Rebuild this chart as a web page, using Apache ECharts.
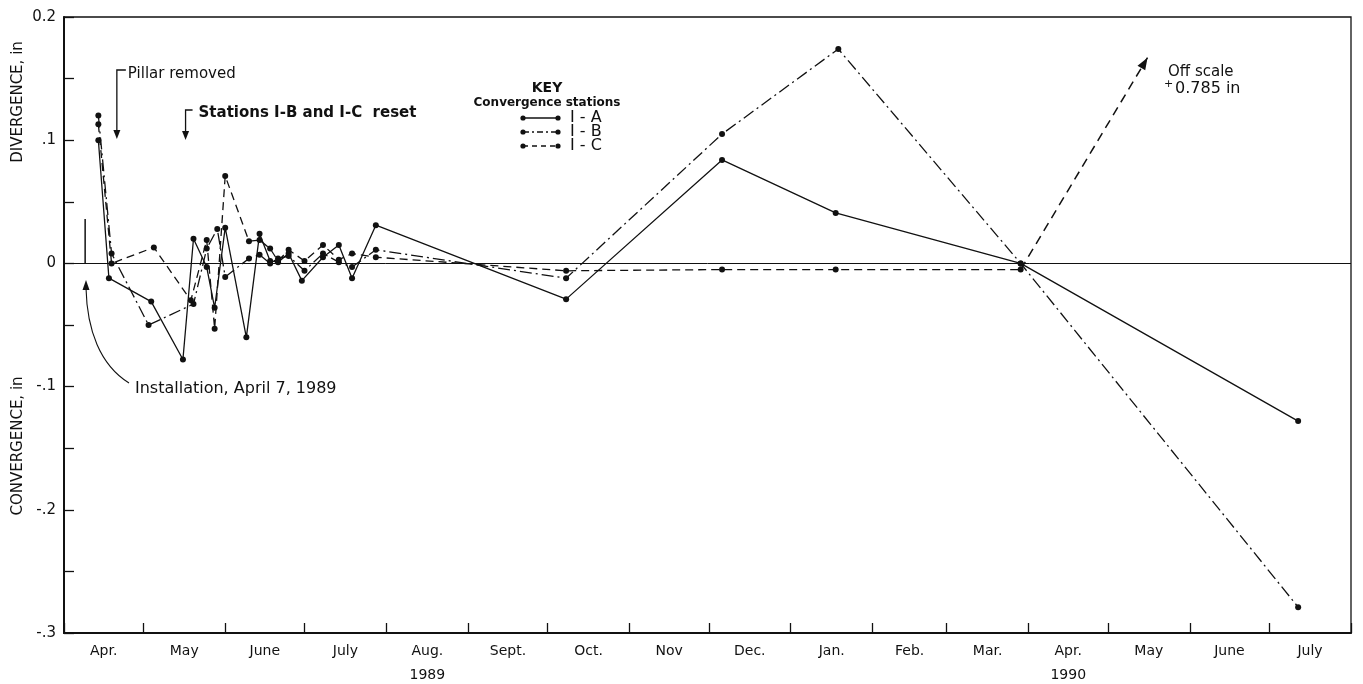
<!DOCTYPE html>
<html>
<head>
<meta charset="utf-8">
<title>Convergence stations</title>
<script src="https://cdn.jsdelivr.net/npm/echarts@6/dist/echarts.min.js"></script>
<style>
  html, body { margin: 0; padding: 0; background: #fff; }
  #chart { width: 1363px; height: 684px; }
</style>
</head>
<body>
<div id="chart"></div>
<script>
// station I-A (solid)
var datesA = ['1989-04-14', '1989-04-18', '1989-05-04', '1989-05-16', '1989-05-20', '1989-05-25', '1989-05-28',
  '1989-06-01', '1989-06-09', '1989-06-14', '1989-06-18', '1989-06-21', '1989-06-25', '1989-06-30', '1989-07-08',
  '1989-07-14', '1989-07-19', '1989-07-28', '1989-10-08', '1989-12-06', '1990-01-18', '1990-03-29', '1990-07-12'];
var valuesA = [0.100, -0.012, -0.031, -0.078, 0.020, -0.003, -0.036,
  0.029, -0.060, 0.024, 0.002, 0.001, 0.008, -0.014, 0.005,
  0.015, -0.012, 0.031, -0.029, 0.084, 0.041, 0.000, -0.128];

// station I-B (dash-dot)
var datesB = ['1989-04-14', '1989-04-19', '1989-05-03', '1989-05-20', '1989-05-25', '1989-05-29', '1989-06-01',
  '1989-06-10', '1989-06-14', '1989-06-18', '1989-06-21', '1989-06-25', '1989-07-01', '1989-07-08', '1989-07-14',
  '1989-07-19', '1989-07-28', '1989-10-08', '1989-12-06', '1990-01-19', '1990-03-29', '1990-07-12'];
var valuesB = [0.120, 0.008, -0.050, -0.033, 0.012, 0.028, -0.011,
  0.004, 0.007, 0.000, 0.004, 0.006, -0.006, 0.008, 0.001,
  -0.003, 0.011, -0.012, 0.105, 0.174, 0.000, -0.279];

// station I-C (dashed)
var datesC = ['1989-04-14', '1989-04-19', '1989-05-05', '1989-05-19', '1989-05-25', '1989-05-28', '1989-06-01',
  '1989-06-10', '1989-06-14', '1989-06-18', '1989-06-21', '1989-06-25', '1989-07-01', '1989-07-08', '1989-07-14',
  '1989-07-19', '1989-07-28', '1989-10-08', '1989-12-06', '1990-01-18', '1990-03-29'];
var valuesC = [0.113, 0.000, 0.013, -0.030, 0.019, -0.053, 0.071,
  0.018, 0.019, 0.012, 0.002, 0.011, 0.002, 0.015, 0.003,
  0.008, 0.005, -0.006, -0.005, -0.005, -0.005];

// I-C goes off scale (+0.785 in), drawn as an arrow
var offScaleDates = ['1990-03-29', '1990-05-16'];
var offScaleValues = [-0.005, 0.167];

// x axis: month boundaries and names
var monthTicks = ['1989-04-01', '1989-05-01', '1989-06-01', '1989-07-01', '1989-08-01', '1989-09-01',
  '1989-10-01', '1989-11-01', '1989-12-01', '1990-01-01', '1990-02-01', '1990-03-01', '1990-04-01',
  '1990-05-01', '1990-06-01', '1990-07-01', '1990-08-01'];
var monthNames = ['Apr.', 'May', 'June', 'July', 'Aug.', 'Sept.', 'Oct.', 'Nov', 'Dec.', 'Jan.', 'Feb.',
  'Mar.', 'Apr.', 'May', 'June', 'July'];
var yearNames = ['', '', '', '', '1989', '', '', '', '', '', '', '', '1990', '', '', ''];

// y axis labels from -0.3 to 0.2
var yTickLabels = ['-.3', '-.2', '-.1', '0', '.1', '0.2'];

// annotations
var pillarDate = '1989-04-21';
var resetDate = '1989-05-17';
var installDate = '1989-04-09';

var FONT = 'DejaVu Sans';

function ts(s) {
  var p = s.split('-');
  return new Date(+p[0], +p[1] - 1, +p[2]).getTime();
}
function pairs(dates, values) {
  return dates.map(function (d, i) { return [ts(d), values[i]]; });
}

var tickValues = monthTicks.map(ts);
var labelValues = [];
var labelText = {};
for (var i = 0; i < monthNames.length; i++) {
  var mid = Math.round((tickValues[i] + tickValues[i + 1]) / 2);
  labelValues.push(mid);
  labelText[mid] = monthNames[i] + (yearNames[i] ? '\n' + yearNames[i] : '');
}

var chart = echarts.init(document.getElementById('chart'));

var option = {
  animation: false,
  backgroundColor: '#fff',
  grid: {
    left: 64, right: 12, top: 17, bottom: 51,
    show: true, borderColor: '#111', borderWidth: 1.3,
    outerBoundsMode: 'none'
  },
  xAxis: {
    type: 'value',
    min: tickValues[0],
    max: tickValues[tickValues.length - 1],
    splitLine: { show: false },
    axisLine: { onZero: false, lineStyle: { color: '#111', width: 2 } },
    axisTick: { inside: true, length: 10, customValues: tickValues, lineStyle: { color: '#111', width: 1.3 } },
    axisLabel: {
      customValues: labelValues,
      color: '#111', fontFamily: FONT, fontSize: 14, margin: 6, lineHeight: 24,
      formatter: function (v) { return labelText[v] || ''; }
    }
  },
  yAxis: {
    type: 'value',
    min: -0.3, max: 0.2, interval: 0.05,
    splitLine: { show: false },
    axisLine: { show: true, lineStyle: { color: '#111', width: 2 } },
    axisTick: { inside: true, length: 10, lineStyle: { color: '#111', width: 1.3 } },
    axisLabel: {
      color: '#111', fontFamily: FONT, fontSize: 15, margin: 8,
      formatter: function (v) {
        var k = Math.round(v * 100);
        if (k % 10 !== 0) return '';
        return yTickLabels[Math.round((k + 30) / 10)];
      }
    }
  },
  series: [
    {
      name: 'I - A', type: 'line',
      data: pairs(datesA, valuesA),
      symbol: 'circle', symbolSize: 6,
      itemStyle: { color: '#111' },
      lineStyle: { color: '#111', width: 1.3 },
      markLine: {
        silent: true, symbol: 'none', label: { show: false },
        lineStyle: { color: '#111', width: 1, type: 'solid' },
        data: [{ yAxis: 0 }]
      }
    },
    {
      name: 'I - B', type: 'line',
      data: pairs(datesB, valuesB),
      symbol: 'circle', symbolSize: 6,
      itemStyle: { color: '#111' },
      lineStyle: { color: '#111', width: 1.3, type: [12, 4, 2, 4] }
    },
    {
      name: 'I - C', type: 'line',
      data: pairs(datesC, valuesC),
      symbol: 'circle', symbolSize: 6,
      itemStyle: { color: '#111' },
      lineStyle: { color: '#111', width: 1.3, type: [8, 5] },
      markLine: {
        silent: true, symbol: 'none',
        label: { show: false },
        lineStyle: { color: '#111', width: 1.5, type: [9, 6] },
        data: [[
          { coord: [ts(offScaleDates[0]), offScaleValues[0]] },
          { coord: [ts(offScaleDates[1]), offScaleValues[1]] }
        ]]
      }
    }
  ]
};

chart.setOption(option);

// annotation graphics placed through the grid's own scale
function px(date, v) {
  return chart.convertToPixel({ gridIndex: 0 }, [ts(date), v]);
}
function arrowDown(x, y) {
  return { type: 'polygon', shape: { points: [[x - 3.5, y - 9], [x + 3.5, y - 9], [x, y]] }, style: { fill: '#111' } };
}
function arrowHead(from, tip) {
  var dx = tip[0] - from[0], dy = tip[1] - from[1];
  var len = Math.sqrt(dx * dx + dy * dy);
  var ux = dx / len, uy = dy / len;
  var bx = tip[0] - ux * 12, by = tip[1] - uy * 12;
  return { type: 'polygon', shape: { points: [tip, [bx - uy * 4.5, by + ux * 4.5], [bx + uy * 4.5, by - ux * 4.5]] }, style: { fill: '#111' } };
}
function legendRow(y, dash, label) {
  return [
    { type: 'line', shape: { x1: 523, y1: y, x2: 558, y2: y }, style: { stroke: '#111', lineWidth: 1.3, lineDash: dash } },
    { type: 'circle', shape: { cx: 523, cy: y, r: 2.6 }, style: { fill: '#111' } },
    { type: 'circle', shape: { cx: 558, cy: y, r: 2.6 }, style: { fill: '#111' } },
    { type: 'text', x: 570, y: y, style: { text: label, fill: '#111', font: '16px ' + FONT, textVerticalAlign: 'middle' } }
  ];
}

var pX = px(pillarDate, 0)[0];
var rX = px(resetDate, 0)[0];
var inst = px(installDate, 0.036);
var inst0 = px(installDate, 0);

var graphics = [
  // axis titles
  { type: 'text', x: 18, y: 102, rotation: Math.PI / 2,
    style: { text: 'DIVERGENCE, in', fill: '#111', font: '15px ' + FONT, textAlign: 'center', textVerticalAlign: 'middle' } },
  { type: 'text', x: 18, y: 446, rotation: Math.PI / 2,
    style: { text: 'CONVERGENCE, in', fill: '#111', font: '15px ' + FONT, textAlign: 'center', textVerticalAlign: 'middle' } },
  // pillar removed
  { type: 'polyline', shape: { points: [[pX, 130], [pX, 70], [pX + 9, 70]] }, style: { stroke: '#111', lineWidth: 1.3, fill: null } },
  arrowDown(pX, 139),
  { type: 'text', x: pX + 11, y: 74, style: { text: 'Pillar removed', fill: '#111', font: '15px ' + FONT, textVerticalAlign: 'middle' } },
  // stations reset
  { type: 'polyline', shape: { points: [[rX, 132], [rX, 110], [rX + 7, 110]] }, style: { stroke: '#111', lineWidth: 1.3, fill: null } },
  arrowDown(rX, 140),
  { type: 'text', x: rX + 13, y: 113, style: { text: 'Stations I-B and I-C  reset', fill: '#111', font: 'bold 15px ' + FONT, textVerticalAlign: 'middle' } },
  // installation
  { type: 'line', shape: { x1: inst[0], y1: inst[1], x2: inst0[0], y2: inst0[1] }, style: { stroke: '#111', lineWidth: 1.5 } },
  { type: 'bezierCurve', shape: { x1: 129, y1: 383, cpx1: 100, cpy1: 365, cpx2: 87, cpy2: 330, x2: 86, y2: 288 },
    style: { stroke: '#111', lineWidth: 1.1, fill: null } },
  { type: 'polygon', shape: { points: [[82.5, 290], [89.5, 290], [86, 280]] }, style: { fill: '#111' } },
  { type: 'text', x: 135, y: 389, style: { text: 'Installation, April 7, 1989', fill: '#111', font: '16px ' + FONT, textVerticalAlign: 'middle' } },
  // head of the off-scale arrow
  arrowHead(px(offScaleDates[0], offScaleValues[0]), px(offScaleDates[1], offScaleValues[1])),
  // off scale note
  { type: 'text', x: 1168, y: 72, style: { text: 'Off scale', fill: '#111', font: '15px ' + FONT, textVerticalAlign: 'middle' } },
  { type: 'text', x: 1164, y: 84, style: { text: '+', fill: '#111', font: '11px ' + FONT, textVerticalAlign: 'middle' } },
  { type: 'text', x: 1175, y: 89, style: { text: '0.785 in', fill: '#111', font: '16px ' + FONT, textVerticalAlign: 'middle' } },
  // key
  { type: 'text', x: 547, y: 88, style: { text: 'KEY', fill: '#111', font: 'bold 14px ' + FONT, textAlign: 'center', textVerticalAlign: 'middle' } },
  { type: 'text', x: 547, y: 103, style: { text: 'Convergence stations', fill: '#111', font: 'bold 12px ' + FONT, textAlign: 'center', textVerticalAlign: 'middle' } }
];
graphics = graphics.concat(legendRow(118, null, 'I - A'), legendRow(132, [6, 3, 2, 3], 'I - B'), legendRow(146, [5, 4], 'I - C'));

chart.setOption({ graphic: graphics });
</script>
</body>
</html>
